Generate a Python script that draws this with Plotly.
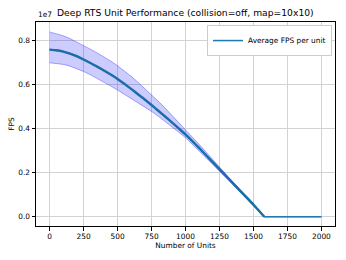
import plotly.graph_objects as go

# Data (FPS values, axis shows x1e7)
units = [0, 50, 100, 150, 200, 250, 300, 350, 400, 450, 500, 550, 600, 650, 700,
         750, 800, 850, 900, 950, 1000, 1050, 1100, 1150, 1200, 1250, 1300, 1350,
         1400, 1450, 1500, 1550, 1580, 1600, 1650, 1700, 1750, 1800, 1850, 1900,
         1950, 2000]
fps_mean_e7 = [0.757, 0.754, 0.748, 0.739, 0.727, 0.712, 0.6965, 0.680, 0.6625, 0.644,
               0.624, 0.602, 0.579, 0.555, 0.531, 0.506, 0.480, 0.454, 0.427, 0.400,
               0.373, 0.3425, 0.3115, 0.2795, 0.2475, 0.2155, 0.1835, 0.1515, 0.1195,
               0.0875, 0.0555, 0.0205, 0.0, 0.0, 0.0, 0.0, 0.0, 0.0, 0.0, 0.0, 0.0, 0.0]
fps_upper_e7 = [0.837, 0.830, 0.820, 0.807, 0.792, 0.775, 0.759, 0.742, 0.724, 0.705,
                0.684, 0.661, 0.636, 0.609, 0.581, 0.553, 0.523, 0.492, 0.460, 0.428,
                0.396, 0.362, 0.328, 0.294, 0.260, 0.225, 0.192, 0.158, 0.125, 0.091,
                0.058, 0.022, 0.0, 0.0, 0.0, 0.0, 0.0, 0.0, 0.0, 0.0, 0.0, 0.0]
fps_lower_e7 = [0.697, 0.695, 0.690, 0.682, 0.671, 0.658, 0.643, 0.627, 0.610, 0.592,
                0.574, 0.555, 0.536, 0.517, 0.497, 0.477, 0.455, 0.432, 0.408, 0.383,
                0.358, 0.329, 0.299, 0.268, 0.237, 0.206, 0.175, 0.145, 0.114, 0.084,
                0.053, 0.019, 0.0, 0.0, 0.0, 0.0, 0.0, 0.0, 0.0, 0.0, 0.0, 0.0]

x_ticks = [0, 250, 500, 750, 1000, 1250, 1500, 1750, 2000]
y_ticks_e7 = [0.0, 0.2, 0.4, 0.6, 0.8]
y_tick_labels = ["0.0", "0.2", "0.4", "0.6", "0.8"]

SCALE = 1e7
fps_mean = [v * SCALE for v in fps_mean_e7]
fps_upper = [v * SCALE for v in fps_upper_e7]
fps_lower = [v * SCALE for v in fps_lower_e7]

FONT = "DejaVu Sans"
TICK = 7.4
fig = go.Figure()

# band
fig.add_trace(go.Scatter(x=units, y=fps_lower, mode="lines",
                         line=dict(color="rgba(0,0,255,0.4)", width=0.8),
                         showlegend=False, hoverinfo="skip"))
fig.add_trace(go.Scatter(x=units, y=fps_upper, mode="lines", fill="tonexty",
                         fillcolor="rgba(0,0,255,0.2)",
                         line=dict(color="rgba(0,0,255,0.4)", width=0.8),
                         showlegend=False, hoverinfo="skip"))
# mean line
fig.add_trace(go.Scatter(x=units, y=fps_mean, mode="lines",
                         line=dict(color="#1f77b4", width=1.5),
                         name="Average FPS per unit"))
# thicker descending part (dense sample points)
n_active = sum(1 for v in fps_mean if v > 0) + 1
fig.add_trace(go.Scatter(x=units[:n_active], y=fps_mean[:n_active], mode="lines",
                         line=dict(color="#1b6fa9", width=2.4, shape="spline", smoothing=0.6),
                         showlegend=False, hoverinfo="skip"))

axis_common = dict(showline=True, linecolor="black", linewidth=1, mirror=True,
                   ticks="outside", ticklen=3.5, tickcolor="black", tickwidth=0.8,
                   showgrid=True, gridcolor="#d3d3d3", gridwidth=1, zeroline=False,
                   automargin=False,
                   tickfont=dict(family=FONT, size=TICK, color="black"))

fig.update_layout(
    width=346, height=260,
    paper_bgcolor="white", plot_bgcolor="white",
    margin=dict(l=36, r=11, t=22, b=34),
    font=dict(family=FONT, size=TICK, color="black"),
    xaxis=dict(range=[-100, 2100], tickvals=x_ticks,
               title=dict(text="Number of Units", font=dict(family=FONT, size=TICK), standoff=2),
               **axis_common),
    yaxis=dict(range=[-0.042 * SCALE, 0.882 * SCALE],
               tickvals=[v * SCALE for v in y_ticks_e7], ticktext=y_tick_labels,
               title=dict(text="FPS", font=dict(family=FONT, size=TICK), standoff=2),
               **axis_common),
    legend=dict(x=0.99, xanchor="right", y=0.985, yanchor="top",
                bgcolor="white", bordercolor="#cccccc", borderwidth=1,
                font=dict(family=FONT, size=TICK), itemwidth=30),
    showlegend=True,
)

fig.add_annotation(text="Deep RTS Unit Performance (collision=off, map=10x10)",
                   xref="paper", yref="paper", x=0.5, y=1, xanchor="center",
                   yanchor="bottom", yshift=2, showarrow=False,
                   font=dict(family=FONT, size=9.2, color="black"))
fig.add_annotation(text="1e7", xref="paper", yref="paper", x=0, y=1,
                   xanchor="left", yanchor="bottom", yshift=1, showarrow=False,
                   font=dict(family=FONT, size=TICK, color="black"))

fig.write_html("out.html", config={"displayModeBar": False},
               post_script="document.body.style.margin='0';document.body.style.padding='0';")
